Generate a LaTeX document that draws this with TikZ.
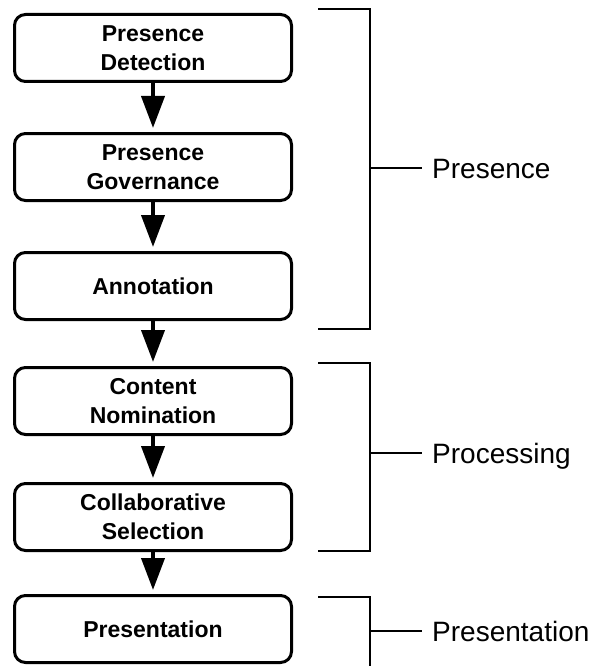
\documentclass[tikz,border=0pt]{standalone}
\usepackage{fontspec}
\setmainfont{Liberation Sans}
\usepackage{tikz}
\usetikzlibrary{arrows.meta}
\tikzset{stage/.style={draw=black, line width=3pt, rounded corners=11pt, minimum width=277pt, minimum height=67pt, inner sep=0pt, align=center, font=\fontsize{23}{29}\selectfont\bfseries}}
\tikzset{flow/.style={line width=4pt, -{Triangle[length=32pt,width=23pt]}, shorten >=4pt}}
\tikzset{phase/.style={anchor=west, inner sep=0pt, text height=20pt, text depth=0pt, font=\fontsize{28}{30}\selectfont}}
\tikzset{brace/.style={line width=2pt}}

\begin{document}
\begin{tikzpicture}[x=1pt, y=-1pt]
\useasboundingbox (0,0) rectangle (592,666);
\foreach \nm/\yy/\txt in {det/48/{Presence\\Detection}, gov/167/{Presence\\Governance}, ann/286/Annotation, nom/401/{Content\\Nomination}, sel/517/{Collaborative\\Selection}, pres/629/Presentation} {
 \node[stage] (\nm) at (153,\yy) {\txt};
}
\foreach \a/\b in {det/gov, gov/ann, ann/nom, nom/sel, sel/pres} {
 \draw[flow] (\a) -- (\b);
}
\node[phase] (presence) at (432,168) {Presence};
\node[phase] (processing) at (432,453) {Processing};
\node[phase] (presentation) at (432,631) {Presentation};
\draw[brace] (318,9) -| (370,329) -- (318,329) (370,168) -- ([xshift=-10pt]presence.west);
\draw[brace] (318,363) -| (370,551) -- (318,551) (370,453) -- ([xshift=-10pt]processing.west);
\draw[brace] (318,597) -| (370,667) (370,631) -- ([xshift=-10pt]presentation.west);
\end{tikzpicture}
\end{document}
